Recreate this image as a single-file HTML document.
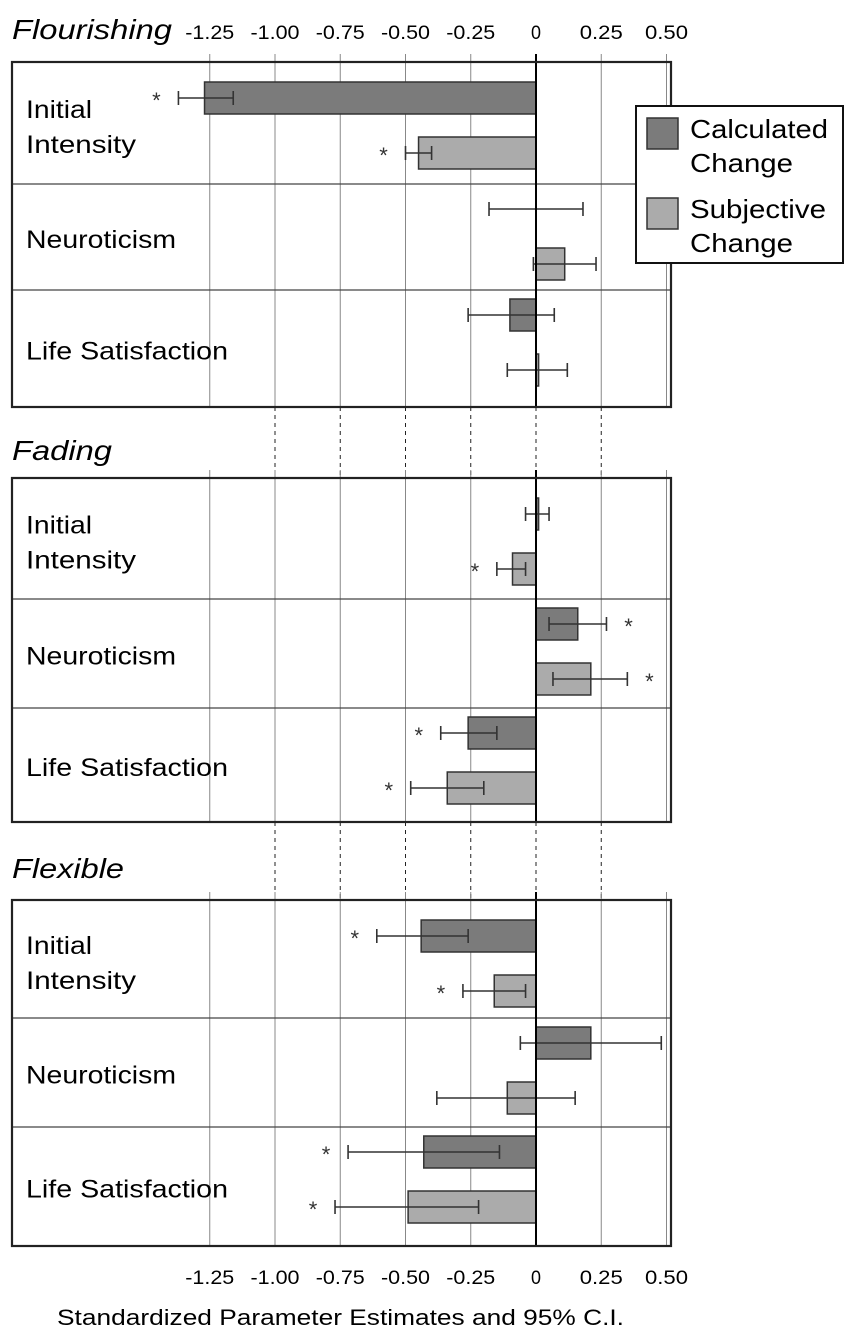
<!DOCTYPE html>
<html><head><meta charset="utf-8"><style>
html,body{margin:0;padding:0;background:#fff;}
svg{display:block;font-family:"Liberation Sans",Arial,sans-serif;}
</style></head><body>
<svg id="chart" width="851" height="1339" viewBox="0 0 851 1339" xmlns="http://www.w3.org/2000/svg"></svg>
<script>
const ticks = [-1.25, -1.00, -0.75, -0.50, -0.25, 0, 0.25, 0.50];
const tickLabels = ["-1.25", "-1.00", "-0.75", "-0.50", "-0.25", "0", "0.25", "0.50"];
const panels = ["Flourishing", "Fading", "Flexible"];
const predictors = ["Initial Intensity", "Neuroticism", "Life Satisfaction"];
// per panel: [Initial Intensity, Neuroticism, Life Satisfaction]
const calcValues = [[-1.27, 0.0, -0.10], [0.01, 0.16, -0.26], [-0.44, 0.21, -0.43]];
const calcLow = [[-1.37, -0.18, -0.26], [-0.04, 0.05, -0.365], [-0.61, -0.06, -0.72]];
const calcHigh = [[-1.16, 0.18, 0.07], [0.05, 0.27, -0.15], [-0.26, 0.48, -0.14]];
const calcSig = [[1, 0, 0], [0, 1, 1], [1, 0, 1]];
const subjValues = [[-0.45, 0.11, 0.01], [-0.09, 0.21, -0.34], [-0.16, -0.11, -0.49]];
const subjLow = [[-0.50, -0.01, -0.11], [-0.15, 0.065, -0.48], [-0.28, -0.38, -0.77]];
const subjHigh = [[-0.40, 0.23, 0.12], [-0.04, 0.35, -0.20], [-0.04, 0.15, -0.22]];
const subjSig = [[1, 0, 0], [1, 1, 1], [1, 0, 1]];

const NS = "http://www.w3.org/2000/svg";
const svg = document.getElementById("chart");
const X0 = 536, UNIT = 261;
function x(v){ return X0 + v*UNIT; }
const boxL = 12, boxR = 671;
const panelRows = [[62,184,290,407],[478,599,708,822],[900,1018,1127,1246]];
const titleY = [39, 460, 878];
const titleW = {"Flourishing":160, "Fading":100, "Flexible":112};
const labelW = {"Initial":66, "Intensity":110, "Neuroticism":150, "Life Satisfaction":202};

function el(tag, attrs, parent){
  const e = document.createElementNS(NS, tag);
  for (const k in attrs) e.setAttribute(k, attrs[k]);
  (parent||svg).appendChild(e);
  return e;
}
function tl(s){ return s.length===1 ? 10 : s.length*10; }

ticks.forEach((t,i)=>{
  const w = tickLabels[i].length===1 ? 10 : (tickLabels[i].length===5 ? 49 : 43);
  const tx = el("text",{x:x(t),y:39,"text-anchor":"middle","font-size":"19",textLength:w,lengthAdjust:"spacingAndGlyphs"});
  
  
  tx.textContent = tickLabels[i];
  const tb = el("text",{x:x(t),y:1284,"text-anchor":"middle","font-size":"19",textLength:w,lengthAdjust:"spacingAndGlyphs"});
  
  
  tb.textContent = tickLabels[i];
});

[[407,478],[822,900]].forEach(seg=>{
  ticks.forEach(t=>{
    if (t<=-1.25 || t>=0.5) return;
    const l = el("line",{x1:x(t),x2:x(t),y1:seg[0],y2:seg[1],stroke:"#222","stroke-width":"1","stroke-dasharray":"4,4"});
    
    
  });
});

panels.forEach((name,p)=>{
  const r = panelRows[p];
  const g = el("g",{});
  
  
  const title = el("text",{x:12,y:titleY[p],"font-size":"28","font-style":"italic",textLength:titleW[name],lengthAdjust:"spacingAndGlyphs"},g);
  
  
  title.textContent = name;
  ticks.forEach(t=>{
    if (t===0) return;
    const l = el("line",{x1:x(t),x2:x(t),y1:r[0]-8,y2:r[3],stroke:"#888","stroke-width":"1"},g);
    
    
  });
  [r[1],r[2]].forEach(yy=>{
    const l = el("line",{x1:boxL,x2:boxR,y1:yy,y2:yy,stroke:"#444","stroke-width":"1.3"},g);
    
    
  });
  predictors.forEach((pr,j)=>{
    const top = r[j], bot = r[j+1];
    const mid = (top+bot)/2;
    if (pr==="Initial Intensity"){
      const t1 = el("text",{x:26,y:mid-5,"font-size":"25",textLength:labelW["Initial"],lengthAdjust:"spacingAndGlyphs"},g);
      
      
      t1.textContent = "Initial";
      const t2 = el("text",{x:26,y:mid+30,"font-size":"25",textLength:labelW["Intensity"],lengthAdjust:"spacingAndGlyphs"},g);
      
      
      t2.textContent = "Intensity";
    } else {
      const t = el("text",{x:26,y:mid+11,"font-size":"25",textLength:labelW[pr],lengthAdjust:"spacingAndGlyphs"},g);
      
      
      t.textContent = pr;
    }
    const off = j===0 ? 36 : 25;
    const series = [
      {v:calcValues, lo:calcLow, hi:calcHigh, sig:calcSig, fill:"#7b7b7b", cy: top+off, nm:"calculated"},
      {v:subjValues, lo:subjLow, hi:subjHigh, sig:subjSig, fill:"#ababab", cy: top+off+55, nm:"subjective"}
    ];
    series.forEach(s=>{
      const v = s.v[p][j];
      if (Math.abs(v) > 0.005){
        const b = el("rect",{x:Math.min(x(0),x(v)),y:s.cy-16,width:Math.abs(x(v)-x(0)),height:32,fill:s.fill,stroke:"#333","stroke-width":"1.5"},g);
        
        
      } else {
        const b = el("line",{x1:x(v),x2:x(v),y1:s.cy-16,y2:s.cy+16,stroke:"#222","stroke-width":"2"},g);
        
        
      }
      const lo = x(s.lo[p][j]), hi = x(s.hi[p][j]);
      const eg = el("g",{stroke:"#333","stroke-width":"1.6"},g);
      
      
      el("line",{x1:lo,x2:hi,y1:s.cy,y2:s.cy},eg);
      el("line",{x1:lo,x2:lo,y1:s.cy-7,y2:s.cy+7},eg);
      el("line",{x1:hi,x2:hi,y1:s.cy-7,y2:s.cy+7},eg);
      if (s.sig[p][j]){
        const right = s.lo[p][j] > 0;
        const sx = right ? hi+22 : lo-22;
        const st = el("text",{x:sx,y:s.cy+10,"text-anchor":"middle","font-size":"22",fill:"#333"},g);
        
        
        st.textContent = "*";
      }
    });
  });
  const z = el("line",{x1:x(0),x2:x(0),y1:r[0]-8,y2:r[3],stroke:"#000","stroke-width":"2"},g);
  
  
  const bx = el("rect",{x:boxL,y:r[0],width:boxR-boxL,height:r[3]-r[0],fill:"none",stroke:"#222","stroke-width":"2.2"},g);
  
  
});

const lg = el("g",{});


el("rect",{x:636,y:106,width:207,height:157,fill:"#fff",stroke:"#111","stroke-width":"2"},lg);
const le1 = el("rect",{x:647,y:118,width:31,height:31,fill:"#7b7b7b",stroke:"#333","stroke-width":"1.5"},lg);


const le2 = el("rect",{x:647,y:198,width:31,height:31,fill:"#ababab",stroke:"#333","stroke-width":"1.5"},lg);


[["Calculated",138,138],["Change",172,103],["Subjective",218,136],["Change",252,103]].forEach(a=>{
  const t = el("text",{x:690,y:a[1],"font-size":"26",textLength:a[2],lengthAdjust:"spacingAndGlyphs"},lg);
  
  
  t.textContent = a[0];
});

const at = el("text",{x:57,y:1325,"font-size":"22",textLength:567,lengthAdjust:"spacingAndGlyphs"});


at.textContent = "Standardized Parameter Estimates and 95% C.I.";
</script>
</body></html>
